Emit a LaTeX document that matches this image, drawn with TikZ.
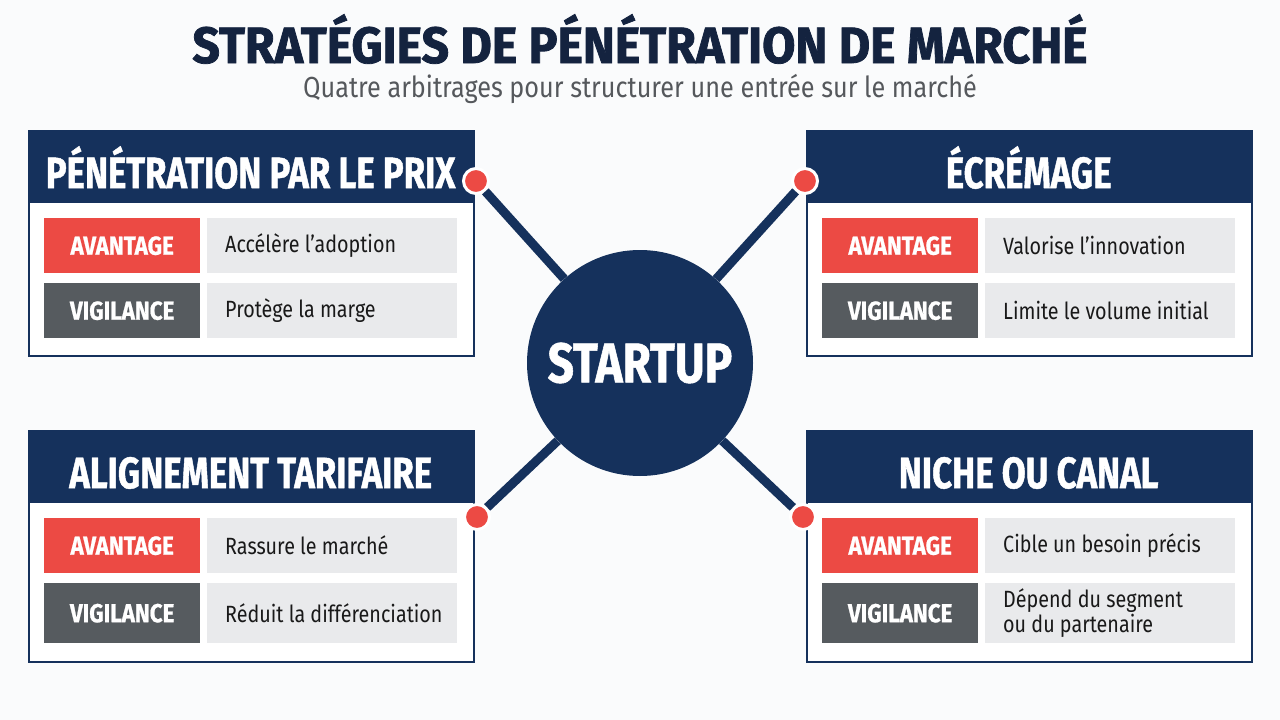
\documentclass[tikz,border=0pt]{standalone}
\usepackage{fontspec}
\usetikzlibrary{calc}
\setmainfont{Fira Sans}
\newfontfamily\titlefont{Fira Sans}[FakeStretch=0.945, FakeBold=1.5]
\newfontfamily\headfont{Fira Sans}[FakeStretch=0.79, FakeBold=1]
\newfontfamily\labfont{Fira Sans}[FakeStretch=0.86, FakeBold=0.8]
\newfontfamily\hubfont{Fira Sans}[FakeStretch=0.82, FakeBold=1]
\newfontfamily\bodyfont{Fira Sans}[FakeStretch=0.84]
\newfontfamily\subfont{Fira Sans}[FakeStretch=0.87]
\definecolor{navy}{HTML}{15315C}
\definecolor{titlenavy}{HTML}{14233F}
\definecolor{accred}{HTML}{EC4A44}
\definecolor{slate}{HTML}{565B5F}
\definecolor{cellgrey}{HTML}{E9EAEC}
\definecolor{subgrey}{HTML}{55585C}
\definecolor{bg}{HTML}{FAFBFC}
\tikzset{
  cardbox/.style={draw=navy, line width=1.6pt, fill=white, anchor=north west, inner sep=0pt},
  headbox/.style={fill=navy, anchor=north west, inner sep=0pt, text=white,
     text height=43pt, text depth=0pt,
     font=\headfont\bfseries\fontsize{44}{46}\selectfont},
  advbox/.style={fill=accred, anchor=north west, inner sep=0pt, text=white,
     font=\labfont\bfseries\fontsize{26}{28}\selectfont},
  vigbox/.style={fill=slate, anchor=north west, inner sep=0pt, text=white,
     font=\labfont\bfseries\fontsize{26}{28}\selectfont},
  valbox/.style={fill=cellgrey, anchor=north west, inner sep=0pt, minimum width=250pt},
  valtext/.style={anchor=west, inner sep=0pt, text=black!90, align=left,
     font=\bodyfont\fontsize{23.5}{25}\selectfont},
  hubnode/.style={circle, fill=navy, minimum size=226pt, inner sep=0pt, text=white,
     font=\hubfont\bfseries\fontsize{56}{60}\selectfont},
  dotnode/.style={circle, fill=accred, draw=white, line width=3pt, minimum size=25pt, inner sep=0pt},
  conn/.style={draw=navy, line width=9pt}
}
% #1 name, #2 x, #3 y, #4 header, #5 adv text, #6 vig text, #7 row2 height, #8 card height
\newcommand\stratcard[8]{%
  \node[cardbox, minimum width=445pt, minimum height=#8pt] (#1) at (#2,#3) {};
  \node[headbox, minimum width=445pt, minimum height=73pt] (#1h) at (#2,#3) {#4};
  \node[advbox, minimum width=156pt, minimum height=55pt] (#1a) at ($(#2,#3)+(16,88)$) {AVANTAGE};
  \node[valbox, minimum height=55pt] (#1av) at ($(#2,#3)+(179,88)$) {};
  \node[valtext] (#1avt) at ([xshift=18pt]#1av.west) {#5};
  \node[vigbox, minimum width=156pt, minimum height=#7pt] (#1v) at ($(#2,#3)+(16,153)$) {VIGILANCE};
  \node[valbox, minimum height=#7pt] (#1vv) at ($(#2,#3)+(179,153)$) {};
  \node[valtext] (#1vvt) at ([xshift=18pt]#1vv.west) {#6};
}
\begin{document}
\begin{tikzpicture}[x=1pt, y=-1pt]
\useasboundingbox (0,0) rectangle (1280,720);
\fill[bg] (0,0) rectangle (1280,720);
\node[anchor=base, inner sep=0pt, text=titlenavy, font=\titlefont\bfseries\fontsize{51}{54}\selectfont] (title) at (640,63) {STRATÉGIES DE PÉNÉTRATION DE MARCHÉ};
\node[anchor=base, inner sep=0pt, text=subgrey, font=\subfont\fontsize{29}{31}\selectfont] (subtitle) at (640,97) {Quatre arbitrages pour structurer une entrée sur le marché};

\node[hubnode] (hub) at (640,363) {STARTUP};

\stratcard{tl}{28}{130}{PÉNÉTRATION PAR LE PRIX}{Accélère l’adoption}{Protège la marge}{55}{225}
\stratcard{tr}{806}{130}{ÉCRÉMAGE}{Valorise l’innovation}{Limite le volume initial}{55}{225}
\stratcard{bl}{28}{430}{ALIGNEMENT TARIFAIRE}{Rassure le marché}{Réduit la différenciation}{60}{231}
\stratcard{br}{806}{430}{NICHE OU CANAL}{Cible un besoin précis}{Dépend du segment\\ou du partenaire}{60}{231}

\node[dotnode] (d1) at (476,181) {};
\node[dotnode] (d2) at (805,181) {};
\node[dotnode] (d3) at (477,517) {};
\node[dotnode] (d4) at (803,517) {};

\draw[conn] (d1) -- (hub);
\draw[conn] (d2) -- (hub);
\draw[conn] (d3) -- (hub);
\draw[conn] (d4) -- (hub);
\end{tikzpicture}
\end{document}
